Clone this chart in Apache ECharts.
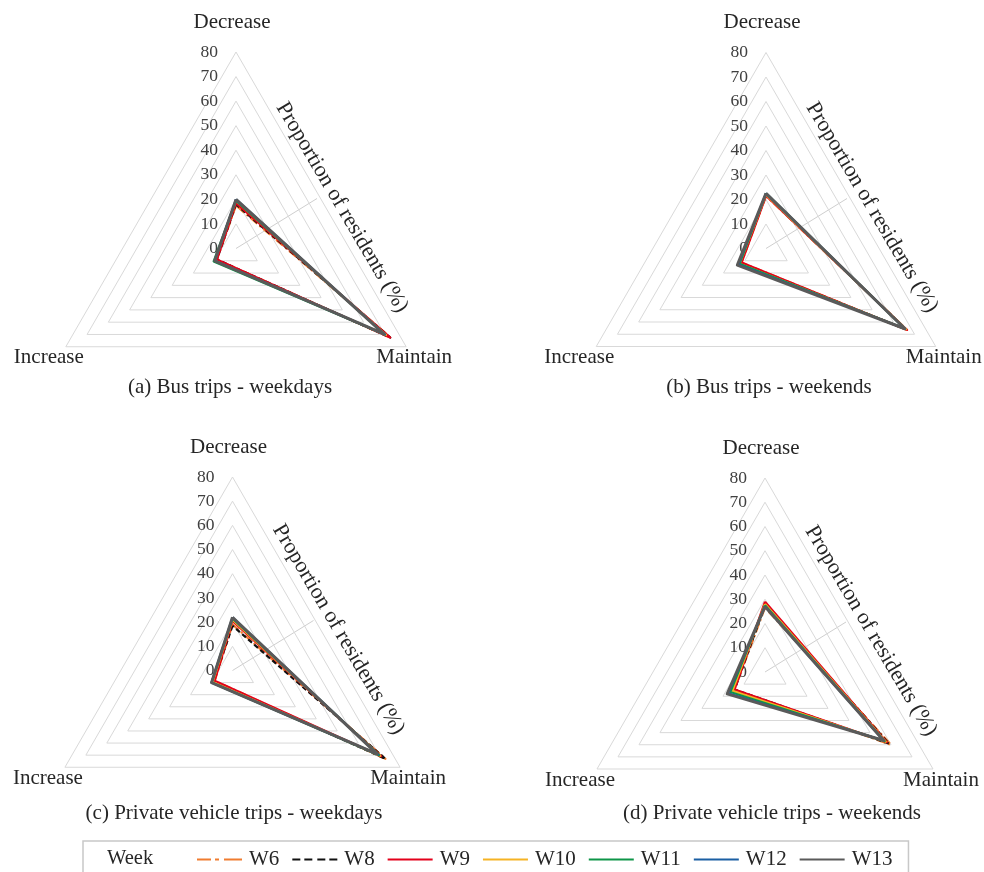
<!DOCTYPE html>
<html>
<head>
<meta charset="utf-8">
<script src="https://cdn.jsdelivr.net/npm/echarts@6/dist/echarts.min.js"></script>
<style>
  html, body { margin: 0; padding: 0; background: #ffffff; }
  #chart { width: 984px; height: 872px; }
</style>
</head>
<body>
<div id="chart"></div>
<script>
// Survey weeks and radial scale
const weeks = ['W6', 'W8', 'W9', 'W10', 'W11', 'W12', 'W13'];
const answerLabels = ['Decrease', 'Maintain', 'Increase'];
const scaleMin = 0;
const scaleMax = 80;
const scaleStep = 10;

// Share of residents (%) per answer, one value per week
const busWeekdaysDecrease = [17.5, 18, 18.5, 19.5, 19.5, 20, 20];
const busWeekdaysMaintain = [73, 72.5, 72.5, 70.5, 70, 70, 69.5];
const busWeekdaysIncrease = [9, 9, 9, 10, 10.5, 10, 10];

const busWeekendsDecrease = [21.5, 22, 21.5, 22, 22.5, 22.5, 22.5];
const busWeekendsMaintain = [66.5, 66, 66.5, 66, 65.5, 65.5, 65.5];
const busWeekendsIncrease = [11.5, 12, 11.5, 12.5, 12.5, 13, 13.5];

const carWeekdaysDecrease = [19, 18.5, 20.5, 21, 21.5, 22, 22];
const carWeekdaysMaintain = [73, 73, 71, 70.5, 70, 69.5, 69];
const carWeekdaysIncrease = [8.5, 9, 8.5, 9.5, 10, 10, 10];

const carWeekendsDecrease = [26.5, 27.5, 29, 28, 27.5, 27, 27];
const carWeekendsMaintain = [60, 59, 58, 57.5, 57, 56.5, 56.5];
const carWeekendsIncrease = [14.5, 14.5, 14.5, 15.5, 16.5, 17.5, 18];

const panelTitles = [
  '(a) Bus trips - weekdays',
  '(b) Bus trips - weekends',
  '(c) Private vehicle trips - weekdays',
  '(d) Private vehicle trips - weekends'
];
const axisTitle = 'Proportion of residents (%)';
const legendCaption = 'Week';

// Line styling per week
const weekColors = ['#F07C30', '#111111', '#E3001B', '#F5B324', '#0E9548', '#1B5FA3', '#5A5A5A'];
const weekDash = [[9, 3, 2, 3], [5, 3], 'solid', 'solid', 'solid', 'solid', 'solid'];
const weekWidth = [2.2, 2.2, 2.2, 2.2, 2.2, 2.2, 3];
// Legend glyphs: filled bars drawn as paths (45 x 2 units)
const weekIcons = [
  'path://M0,0h14v2h-14zM18,0h4v2h-4zM27,0h18v2h-18z',
  'path://M0,0h8v2h-8zM12,0h8v2h-8zM25,0h8v2h-8zM37,0h8v2h-8z',
  'path://M0,0h45v2h-45z',
  'path://M0,0h45v2h-45z',
  'path://M0,0h45v2h-45z',
  'path://M0,0h45v2h-45z',
  'path://M0,0h45v2h-45z'
];

// Panel layout: radar centre, radius and caption position
const panelLayout = [
  { center: [236, 248.5], radius: 196.5, caption: [230, 387] },
  { center: [766, 248.5], radius: 196, caption: [769, 387] },
  { center: [232.5, 670.5], radius: 193.5, caption: [234, 813] },
  { center: [765, 672], radius: 194, caption: [772, 813] }
];

const panelData = [
  { dec: busWeekdaysDecrease, mai: busWeekdaysMaintain, inc: busWeekdaysIncrease },
  { dec: busWeekendsDecrease, mai: busWeekendsMaintain, inc: busWeekendsIncrease },
  { dec: carWeekdaysDecrease, mai: carWeekdaysMaintain, inc: carWeekdaysIncrease },
  { dec: carWeekendsDecrease, mai: carWeekendsMaintain, inc: carWeekendsIncrease }
];

const FONT = '"Liberation Serif", "Times New Roman", serif';
const TEXT = '#262626';

// ECharts lays radar indicators out counter-clockwise from the top,
// so the order Decrease, Increase, Maintain puts Maintain at bottom right.
const radars = panelLayout.map(function (p) {
  return {
    center: p.center,
    radius: p.radius,
    shape: 'polygon',
    startAngle: 90,
    splitNumber: (scaleMax - scaleMin) / scaleStep,
    indicator: [
      { name: answerLabels[0], min: scaleMin, max: scaleMax, axisLabel: { show: true } },
      { name: answerLabels[2], min: scaleMin, max: scaleMax },
      { name: answerLabels[1], min: scaleMin, max: scaleMax }
    ],
    axisName: { show: false },
    axisLine: { show: false },
    axisTick: { show: false },
    axisLabel: {
      show: false,
      fontFamily: FONT,
      fontSize: 17.5,
      color: '#404040',
      margin: 18
    },
    splitArea: { show: false },
    splitLine: { lineStyle: { color: '#d9d9d9', width: 1 } }
  };
});

const series = panelData.map(function (d, i) {
  return {
    type: 'radar',
    radarIndex: i,
    symbol: 'none',
    silent: true,
    data: weeks.map(function (w, k) {
      return {
        name: w,
        value: [d.dec[k], d.inc[k], d.mai[k]],
        itemStyle: { color: weekColors[k] },
        lineStyle: { color: weekColors[k], width: weekWidth[k], type: weekDash[k], cap: 'butt' }
      };
    })
  };
});

// Corner names, captions, rotated axis title and its leader line
const graphics = [];
panelLayout.forEach(function (p, i) {
  const cx = p.center[0], cy = p.center[1], r = p.radius;
  const vx = r * Math.cos(Math.PI / 6), vy = r * Math.sin(Math.PI / 6);
  const txt = function (text, x, y, size, extra) {
    return Object.assign({
      type: 'text', x: x, y: y, silent: true,
      style: { text: text, font: size + 'px ' + FONT, fill: TEXT, align: 'center', verticalAlign: 'middle' }
    }, extra || {});
  };
  graphics.push(txt(answerLabels[0], cx - 4, cy - r - 30, 21));
  graphics.push(txt(answerLabels[2], cx - vx - 17, cy + vy + 11, 21));
  graphics.push(txt(answerLabels[1], cx + vx + 8, cy + vy + 11, 21));
  graphics.push(txt(panelTitles[i], p.caption[0], p.caption[1], 21));
  graphics.push({
    type: 'line', silent: true,
    shape: { x1: cx, y1: cy, x2: cx + 81, y2: cy - 50 },
    style: { stroke: '#cfcfcf', lineWidth: 1 }
  });
  graphics.push(txt(axisTitle, cx + 106, cy - 41, 22, { rotation: -59.5 * Math.PI / 180 }));
});
graphics.push({
  type: 'text', x: 107, y: 859, silent: true,
  style: { text: legendCaption, font: '20.5px ' + FONT, fill: TEXT, align: 'left', verticalAlign: 'middle' }
});

const option = {
  animation: false,
  backgroundColor: '#ffffff',
  color: weekColors,
  radar: radars,
  legend: {
    left: 83,
    top: 841,
    orient: 'horizontal',
    padding: [8, 16, 30, 114],
    borderColor: '#c8c8c8',
    borderWidth: 1.5,
    itemWidth: 45,
    itemHeight: 2,
    itemGap: 13,
    selectedMode: false,
    itemStyle: { borderWidth: 0 },
    textStyle: { fontFamily: FONT, fontSize: 21, color: TEXT, padding: [0, 0, 0, 2] },
    data: weeks.map(function (w, k) {
      return { name: w, icon: weekIcons[k], itemStyle: { color: weekColors[k], borderWidth: 0 } };
    })
  },
  graphic: graphics,
  series: series
};

const chart = echarts.init(document.getElementById('chart'), null, { renderer: 'canvas' });
chart.setOption(option);
</script>
</body>
</html>
